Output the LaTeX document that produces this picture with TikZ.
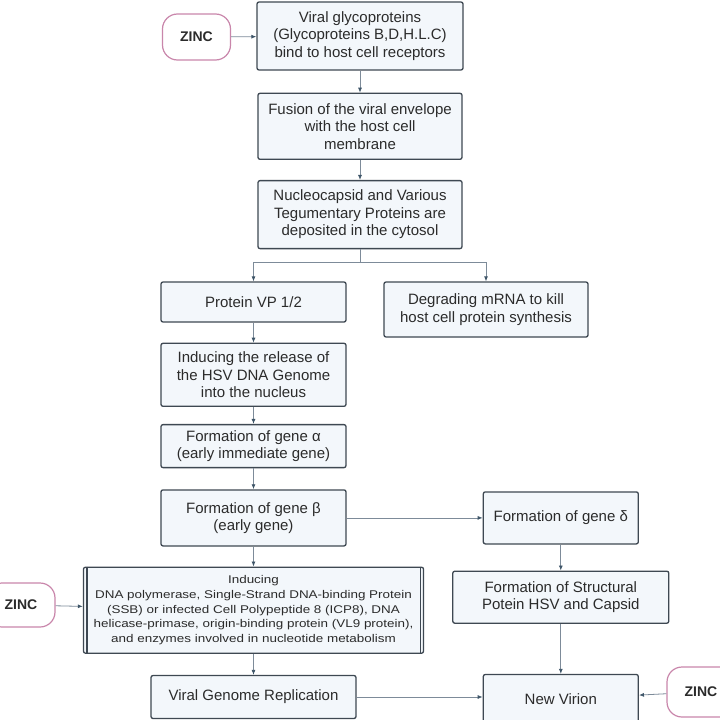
\documentclass[tikz,border=0pt]{standalone}
\usepackage{fontspec}
\setmainfont{Liberation Sans}
\newfontfamily\widefont{Liberation Sans}[FakeStretch=1.2]
\usetikzlibrary{arrows.meta,positioning}
\definecolor{boxfill}{HTML}{F3F7FB}
\definecolor{boxline}{HTML}{3E4852}
\definecolor{txt}{HTML}{2B2B2B}
\definecolor{arrline}{HTML}{7D8B99}
\definecolor{arrhead}{HTML}{3E5568}
\definecolor{zincline}{HTML}{C986AB}

\begin{document}
\begin{tikzpicture}[x=1pt,y=-1pt,node distance=20pt,
box/.style={draw=boxline,fill=boxfill,line width=1.3pt,rounded corners=2pt,align=center,inner sep=0pt,text=txt,font=\fontsize{15}{17.5}\selectfont},
zinc/.style={draw=zincline,fill=white,line width=1.2pt,rounded corners=15pt,inner sep=0pt,minimum width=68pt,text=txt,font=\fontsize{14}{16}\selectfont\bfseries},
arr/.style={draw=arrline,line width=0.8pt,-{Latex[length=5pt,width=4pt,color=arrhead]}}]
\clip (0,0) rectangle (720,720);
\useasboundingbox (0,0) rectangle (720,720);
\node[box,minimum width=206pt,minimum height=68pt](bind) at (360,36){Viral glycoproteins\\(Glycoproteins B,D,H.L.C)\\bind to host cell receptors};
\node[box,minimum width=204pt,minimum height=66pt,below=22pt of bind](fusion){Fusion of the viral envelope\\with the host cell\\membrane};
\node[box,minimum width=204pt,minimum height=68pt,below=20pt of fusion](nucleo){Nucleocapsid and Various\\Tegumentary Proteins are\\deposited in the cytosol};
\node[box,minimum width=185pt,minimum height=40pt](vp) at (253.5,302){Protein VP 1/2};
\node[box,minimum width=204pt,minimum height=55pt](degrade) at (486,309.5){Degrading mRNA to kill\\host cell protein synthesis};
\node[box,minimum width=185pt,minimum height=63pt,below=20pt of vp](release){Inducing the release of\\the HSV DNA Genome\\into the nucleus};
\node[box,minimum width=185pt,minimum height=43pt,below=17pt of release](alpha){Formation of gene α\\(early immediate gene)};
\node[box,minimum width=185pt,minimum height=56pt,below=21pt of alpha](beta){Formation of gene β\\(early gene)};
\node[box,minimum width=155pt,minimum height=52pt,right=136pt of beta](delta){Formation of gene δ};
\node[box,minimum width=340pt,minimum height=86pt,below=20pt of beta,font=\widefont\fontsize{11.2}{14.8}\selectfont](induce){Inducing\\DNA polymerase, Single-Strand DNA-binding Protein\\(SSB) or infected Cell Polypeptide 8 (ICP8), DNA\\helicase-primase, origin-binding protein (VL9 protein),\\and enzymes involved in nucleotide metabolism};
\draw[boxline,line width=1.3pt]([xshift=4pt]induce.north west)--([xshift=4pt]induce.south west);
\draw[boxline,line width=1.3pt]([xshift=-4pt]induce.north east)--([xshift=-4pt]induce.south east);
\node[box,minimum width=216pt,minimum height=52pt,below=26pt of delta](struct){Formation of Structural\\Potein HSV and Capsid};
\node[box,minimum width=205pt,minimum height=43pt,below=21pt of induce](replic){Viral Genome Replication};
\node[box,minimum width=155pt,minimum height=49pt,below=50pt of struct](virion){New Virion};
\node[zinc,minimum height=46pt](zinctop) at (196.5,37){ZINC};
\node[zinc,minimum height=44pt](zincleft) at (21,605){ZINC};
\node[zinc,minimum height=50pt](zincright) at (701,692){ZINC};
\coordinate(split) at (360,262);
\draw[arr](zinctop)--(bind);\draw[arr](bind)--(fusion);\draw[arr](fusion)--(nucleo);
\draw[draw=arrline,line width=0.8pt](nucleo)--(split);
\draw[arr](split)-|(vp);\draw[arr](split)-|(degrade);
\draw[arr](vp)--(release);\draw[arr](release)--(alpha);\draw[arr](alpha)--(beta);
\draw[arr](beta)--(delta);\draw[arr](beta)--(induce);\draw[arr](zincleft)--(induce);
\draw[arr](delta)--(struct);\draw[arr](induce)--(replic);
\draw[arr](struct.south)--(struct.south|-virion.north);
\draw[arr](replic.east)--(replic.east-|virion.west);
\draw[arr](zincright)--(virion);
\end{tikzpicture}
\end{document}
